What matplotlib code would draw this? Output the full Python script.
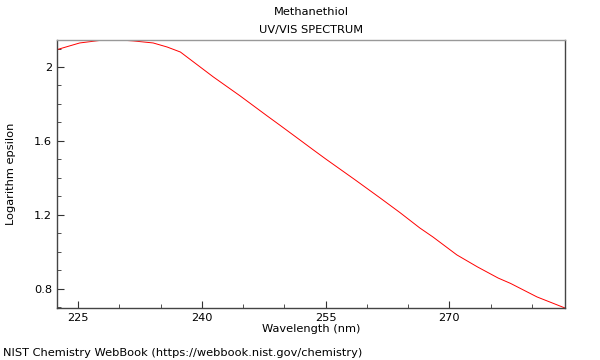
import numpy as np
from matplotlib import pyplot as plt
from matplotlib.ticker import MultipleLocator

# 光谱数据
wavelength = [222.45, 225.2, 227.7, 230.1, 231.7, 234.1, 235.8, 237.4, 239.0,
              241.4, 244.6, 247.9, 249.5, 251.9, 253.5, 255.0, 258.6, 261.6,
              264.0, 266.4, 268.0, 270.9, 273.4, 275.9, 277.4, 280.6, 284.0]
log_eps = [2.094, 2.130, 2.144, 2.146, 2.141, 2.130, 2.108, 2.081, 2.027,
           1.946, 1.845, 1.736, 1.684, 1.605, 1.552, 1.503, 1.389, 1.292,
           1.213, 1.130, 1.081, 0.984, 0.919, 0.859, 0.830, 0.757, 0.697]

x_ticks = [225, 240, 255, 270]
y_ticks = [0.8, 1.2, 1.6, 2.0]
y_labels = ['0.8', '1.2', '1.6', '2']

fs = 8.2

fig = plt.figure(figsize=(6, 3.6), dpi=100)
ax = fig.add_axes([57 / 600, 1 - 308 / 360, 508 / 600, 268 / 360])
ax.plot(wavelength, log_eps, color='red', lw=0.7)

ax.set_xlim(222.45, 284.0)
ax.set_ylim(0.697, 2.146)
ax.set_xticks(x_ticks)
ax.set_yticks(y_ticks)
ax.set_yticklabels(y_labels)
ax.xaxis.set_minor_locator(MultipleLocator(5))
ax.yaxis.set_minor_locator(MultipleLocator(0.1))
ax.tick_params(which='both', direction='in', labelsize=fs, color='#333333')
ax.tick_params(which='major', length=5)
ax.tick_params(which='minor', length=3)
ax.tick_params(top=False, right=False, which='both')

for s in ['left', 'bottom', 'right']:
    ax.spines[s].set_color('#444444')
ax.spines['top'].set_color('#999999')
for s in ax.spines.values():
    s.set_linewidth(1.0)

ax.set_xlabel('Wavelength (nm)', fontsize=fs, labelpad=1)
ax.set_ylabel('Logarithm epsilon', fontsize=fs)
ax.yaxis.set_label_coords(-41 / 508, 0.5)

fig.text(311 / 600, 1 - 12 / 360, 'Methanethiol', ha='center', va='center', fontsize=fs)
fig.text(311 / 600, 1 - 30 / 360, 'UV/VIS SPECTRUM', ha='center', va='center', fontsize=fs)
fig.text(3 / 600, 1 - 353 / 360, 'NIST Chemistry WebBook (https://webbook.nist.gov/chemistry)',
         ha='left', va='center', fontsize=fs)

fig.savefig('out.png', dpi=100)
